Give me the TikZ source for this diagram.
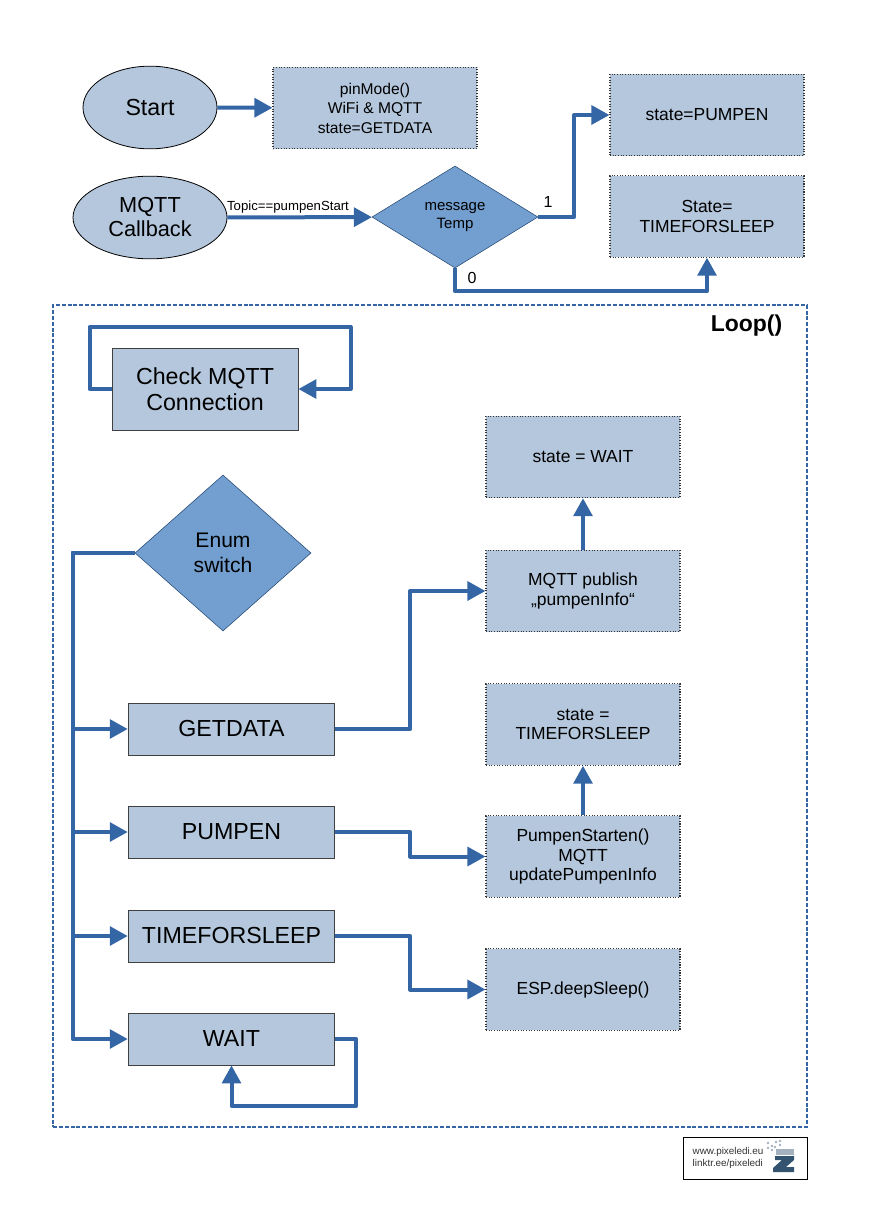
\documentclass[tikz,border=0pt]{standalone}
\usepackage{fontspec}
\setmainfont{Liberation Sans}
\usetikzlibrary{arrows.meta,shapes.geometric}
\definecolor{boxblue}{HTML}{B4C7DC}
\definecolor{decblue}{HTML}{729FCF}
\definecolor{flowblue}{HTML}{3465A4}
\definecolor{logoblue}{HTML}{34536F}
\tikzset{
  bigtext/.style={font=\fontsize{17.4}{19.5}\selectfont,align=center},
  smalltext/.style={font=\fontsize{13.1}{14.6}\selectfont,align=center},
  oval/.style={ellipse,draw=black,line width=.6pt,fill=boxblue,inner sep=0pt,bigtext},
  dotbox/.style={rectangle,draw=black!80,dash pattern=on .8pt off 1.2pt,line width=.8pt,fill=boxblue,inner sep=0pt,
    minimum width=145.5pt,minimum height=61pt,smalltext},
  casebox/.style={rectangle,draw=black!75,line width=.6pt,fill=boxblue,inner sep=0pt,
    minimum width=155pt,minimum height=39pt,bigtext},
  decide/.style={diamond,draw=flowblue!70!black,line width=.4pt,fill=decblue,inner sep=0pt,align=center},
  flow/.style={-{Triangle[length=13.5pt,width=14pt]},line width=3pt,draw=flowblue,line join=round}
}
\begin{document}
\begin{tikzpicture}[x=.75pt,y=-.75pt]
    \useasboundingbox (0,0) rectangle (868,1228);

    % top part
    \node[oval,minimum width=100.5pt,minimum height=62pt](start) at (150,107.5){Start};
    \node[dotbox,minimum width=153pt,font=\fontsize{11.7}{14.6}\selectfont](init) at (375,108){pinMode()\\WiFi \& MQTT\\state=GETDATA};
    \node[oval,minimum width=115.5pt,minimum height=62pt,font=\fontsize{16.3}{18}\selectfont](callback) at (150,217.5){MQTT\\Callback};
    \node[decide,font=\fontsize{11.25}{12.8}\selectfont,minimum width=124.5pt,minimum height=76.5pt](message) at (455,217){message\\Temp};
    \node[dotbox](statepumpen) at (707,115){state=PUMPEN};
    \node[dotbox](statesleep) at (707,216.5){State=\\TIMEFORSLEEP};
    \node[font=\fontsize{9.9}{11}\selectfont](topic) at (288,207){Topic==pumpenStart};
    \node[font=\fontsize{12}{13}\selectfont](one) at (548,201.5){1};
    \node[font=\fontsize{12}{13}\selectfont](zero) at (472,278){0};

    \draw[flow] (start) -- (init);
    \draw[flow] (callback) -- (message);
    \draw[flow] (message.east) -- ++(36,0) |- (statepumpen.west);
    \draw[flow] (message.south) -- ++(0,23) -| (statesleep.south);

    % loop frame
    \node[rectangle,draw=flowblue,dash pattern=on 3pt off 1.4pt,line width=1pt,inner sep=0pt,
          minimum width=565.5pt,minimum height=616.5pt](loopframe) at (430,716){};
    \node[font=\fontsize{17.2}{18}\selectfont\bfseries](looplabel) at (746.5,326){Loop()};

    \node[casebox,minimum width=139.5pt,minimum height=61.5pt](check) at (205,389){Check MQTT\\Connection};
    \draw[flow] (check.west) -- ++(-22,0) -- ++(0,-62) -- ++(261,0) -- ++(0,62) -- (check.east);

    \node[decide,font=\fontsize{15.8}{18.5}\selectfont,minimum width=132pt,minimum height=117pt](enum) at (223,553){Enum\\switch};

    \node[casebox](getdata) at (231.5,729){GETDATA};
    \node[casebox](pumpen) at (231.5,832){PUMPEN};
    \node[casebox](sleep) at (231.5,936){TIMEFORSLEEP};
    \node[casebox](wait) at (231.5,1039){WAIT};

    \node[dotbox](statewait) at (583,457){state = WAIT};
    \node[dotbox](publish) at (583,591){MQTT publish\\„pumpenInfo“};
    \node[dotbox](statetfs) at (583,724.5){state =\\TIMEFORSLEEP};
    \node[dotbox](starten) at (583,856.5){PumpenStarten()\\MQTT\\updatePumpenInfo};
    \node[dotbox](deepsleep) at (583,989.5){ESP.deepSleep()};

    \draw[flow] (enum.west) -- ++(-62,0) |- (getdata.west);
    \draw[flow] (enum.west) -- ++(-62,0) |- (pumpen.west);
    \draw[flow] (enum.west) -- ++(-62,0) |- (sleep.west);
    \draw[flow] (enum.west) -- ++(-62,0) |- (wait.west);

    \draw[flow] (getdata.east) -- ++(75,0) |- (publish.west);
    \draw[flow] (pumpen.east) -- ++(75,0) |- (starten.west);
    \draw[flow] (sleep.east) -- ++(75,0) |- (deepsleep.west);
    \draw[flow] (wait.east) -- ++(21,0) -- ++(0,67) -| (wait.south);
    \draw[flow] (publish) -- (statewait);
    \draw[flow] (starten) -- (statetfs);

    % logo
    \node[rectangle,draw=black,line width=.75pt,fill=white,inner sep=0pt,
          minimum width=93pt,minimum height=31.5pt](logo) at (745,1158){};
    \node[font=\fontsize{7.4}{9.4}\selectfont,align=left,anchor=west,text=black!80](logotext) at (688,1158){www.pixeledi.eu\\linktr.ee/pixeledi};
    \fill[logoblue] (775,1156) -- (794,1156) -- (794,1160) -- (786,1167) -- (794,1167) -- (794,1172) -- (773,1172) -- (773,1168) -- (782,1160) -- (775,1160) -- cycle;
    \fill[logoblue!45!white] (776,1149) rectangle (794,1155);
    \foreach \dotx/\doty in {768/1143,772/1146,776/1142,780/1145,772/1150,768/1148,775/1147,780/1141}
      \fill[logoblue!45!white] (\dotx,\doty) circle (1pt);
\end{tikzpicture}
\end{document}
